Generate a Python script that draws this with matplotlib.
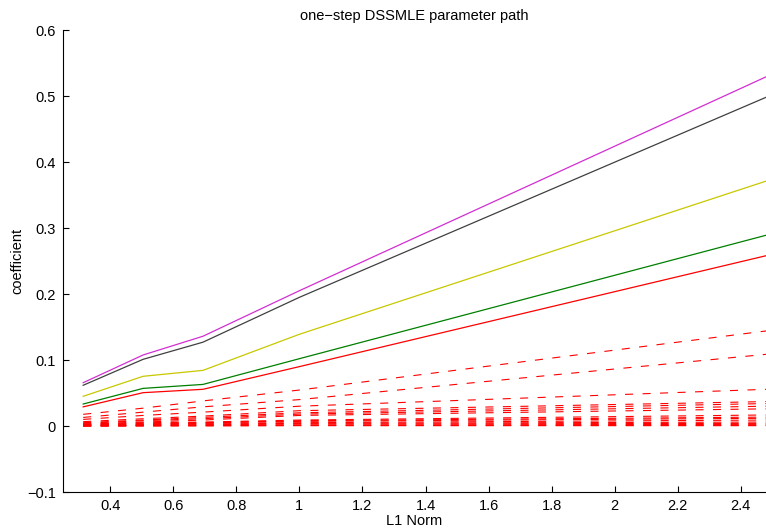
import numpy as np
import matplotlib
matplotlib.use("Agg")
import matplotlib.pyplot as plt

plt.rcParams['font.family'] = ['Liberation Sans', 'DejaVu Sans']
plt.rcParams['lines.scale_dashes'] = False

# L1 norm at each step of the path
l1_norm = [0.314, 0.504, 0.694, 1.0, 2.48]

# solid paths (the large coefficients)
solid_paths = [
    [0.0656, 0.1076, 0.136, 0.205, 0.529],
    [0.0617, 0.101, 0.127, 0.195, 0.498],
    [0.045, 0.0753, 0.0843, 0.139, 0.371],
    [0.0333, 0.057, 0.063, 0.102, 0.289],
    [0.029, 0.0505, 0.0556, 0.090, 0.258],
]
solid_colors = ['#d22fd2', '#404040', '#c8c800', '#008000', '#ff0000']

# dashed paths (the small coefficients)
dashed_paths = [
    [0.0177, 0.027, 0.038, 0.0545, 0.144],
    [0.013, 0.021, 0.029, 0.040, 0.1086],
    [0.010, 0.016, 0.021, 0.030, 0.0556],
    [0.0066, 0.011, 0.015, 0.0232, 0.037],
    [0.005, 0.009, 0.013, 0.020, 0.034],
    [0.004, 0.008, 0.011, 0.018, 0.030],
    [0.003, 0.006, 0.009, 0.016, 0.026],
    [0.003, 0.005, 0.006, 0.009, 0.0167],
    [0.002, 0.004, 0.005, 0.008, 0.0135],
    [0.002, 0.003, 0.005, 0.007, 0.0117],
    [0.001, 0.002, 0.004, 0.005, 0.009],
    [0.001, 0.002, 0.003, 0.004, 0.006],
    [0.0005, 0.001, 0.002, 0.003, 0.004],
    [0.0, 0.0005, 0.001, 0.0015, 0.0025],
    [0.0, 0.0005, 0.001, 0.001, 0.001],
    [0.0, 0.0, 0.0, 0.0005, 0.0005],
]

xticks = [0.4, 0.6, 0.8, 1, 1.2, 1.4, 1.6, 1.8, 2, 2.2, 2.4]
yticks = [-0.1, 0, 0.1, 0.2, 0.3, 0.4, 0.5, 0.6]

fig = plt.figure(figsize=(7.66, 5.29), dpi=100)
ax = fig.add_axes([63/766, 37/529, (766-63)/766, (492-30)/529])

for path in dashed_paths:
    ax.plot(l1_norm, path, color='#ff0000', lw=0.8, linestyle=(0, (5.8, 6.8)))
for path, c in zip(solid_paths, solid_colors):
    ax.plot(l1_norm, path, color=c, lw=0.9)

ax.set_xlim(0.25, 2.48)
ax.set_ylim(-0.1, 0.6)
ax.set_xticks(xticks)
ax.set_xticklabels(['%g' % t for t in xticks])
ax.set_yticks(yticks)
ax.set_yticklabels(['%g' % t if t >= 0 else '\u2212%g' % -t for t in yticks])
ax.tick_params(direction='in', length=4, width=0.8, labelsize=10.5, pad=5)
ax.spines['top'].set_visible(False)
ax.spines['right'].set_visible(False)
ax.spines['left'].set_linewidth(0.8)
ax.spines['bottom'].set_linewidth(0.8)

ax.set_title('one\u2212step DSSMLE parameter path', fontsize=10.5, pad=7)
ax.set_xlabel('L1 Norm', fontsize=10.5, labelpad=1)
ax.set_ylabel('coefficient', fontsize=10.5, labelpad=2)

fig.savefig('out.png', dpi=100)
